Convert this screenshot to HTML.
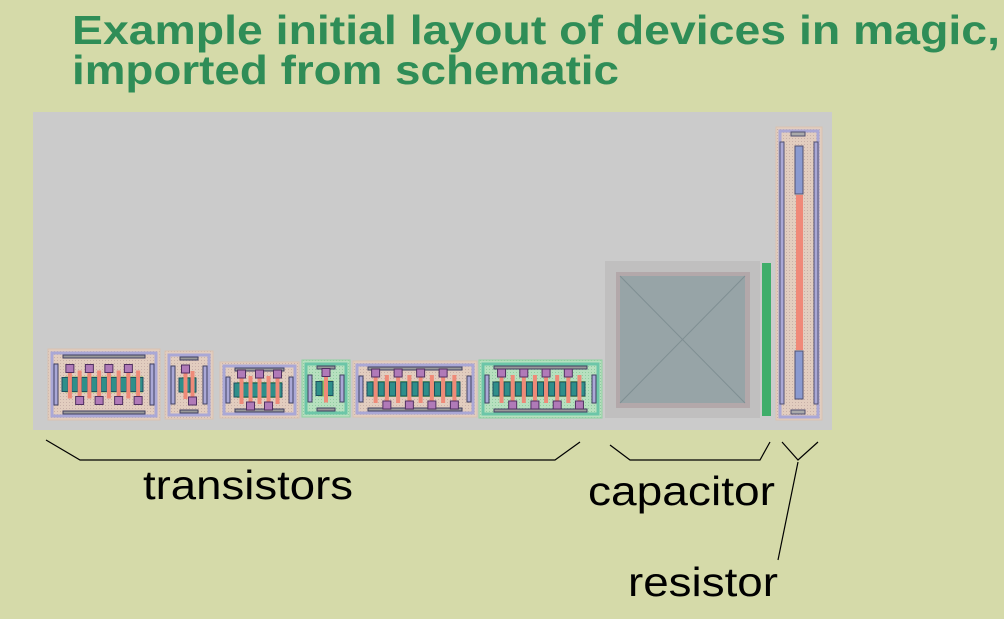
<!DOCTYPE html>
<html><head><meta charset="utf-8"><style>
html,body{margin:0;padding:0;background:#d5daa9;}
svg{display:block;font-family:"Liberation Sans",sans-serif;}
</style></head><body>
<svg width="1004" height="619" viewBox="0 0 1004 619">
<defs>
<pattern id="dots" width="3" height="3" patternUnits="userSpaceOnUse"><rect width="3" height="3" fill="#e2cdbf"/><rect width="1" height="1" fill="#c8b0a8"/></pattern>
<pattern id="gdots" width="3" height="3" patternUnits="userSpaceOnUse"><rect width="3" height="3" fill="#b7e0bf"/><rect width="1" height="1" fill="#8fcca0"/></pattern>
</defs>
<text x="72" y="44" font-size="41" font-weight="bold" fill="#2f8d57" textLength="928" lengthAdjust="spacingAndGlyphs">Example initial layout of devices in magic,</text>
<text x="72" y="84" font-size="41" font-weight="bold" fill="#2f8d57" textLength="547" lengthAdjust="spacingAndGlyphs">imported from schematic</text>
<rect x="33" y="112" width="799" height="318" fill="#cbcbcb"/>
<g id="trans"></g>
<g>
<rect x="605" y="261" width="155" height="157" fill="#c0bfbf"/>
<rect x="616" y="272" width="134" height="136" fill="#b3a8aa"/>
<rect x="620" y="276" width="125" height="127" fill="#97a4a7"/>
<line x1="620" y1="276" x2="745" y2="403" stroke="#7f8f93"/>
<line x1="745" y1="276" x2="620" y2="403" stroke="#7f8f93"/>
<rect x="762" y="263" width="9" height="153" fill="#3fae6a"/>
</g>
<g>
<rect x="776" y="127" width="46" height="293" fill="url(#dots)" stroke="#d9c2b0"/>
<rect x="780" y="131" width="38" height="286" fill="none" stroke="#aaa8d6" stroke-width="3"/>
<rect x="780" y="142" width="4" height="262" fill="#aaa8d6" stroke="#505070"/>
<rect x="814" y="142" width="4" height="262" fill="#aaa8d6" stroke="#505070"/>
<rect x="795" y="146" width="8" height="48" fill="#8a9ad0" stroke="#505070"/>
<rect x="795" y="351" width="8" height="48" fill="#8a9ad0" stroke="#505070"/>
<rect x="796" y="195" width="7" height="155" fill="#f08878"/>
<rect x="791" y="132" width="14" height="4" fill="#aaa" stroke="#505070"/>
<rect x="791" y="410" width="14" height="4" fill="#aaa" stroke="#505070"/>
</g>
<g stroke="#000" stroke-width="1.2" fill="none">
<polyline points="46,440 80,460 555,460 580,442"/>
<polyline points="610,445 630,460 760,460 770,442"/>
<polyline points="782,442 798,460 818,442"/>
<line x1="798" y1="462" x2="778" y2="560"/>
</g>
<text x="143" y="499" font-size="41" fill="#000" textLength="210" lengthAdjust="spacingAndGlyphs">transistors</text>
<text x="588" y="505" font-size="41" fill="#000" textLength="187" lengthAdjust="spacingAndGlyphs">capacitor</text>
<text x="628" y="596" font-size="41" fill="#000" textLength="150" lengthAdjust="spacingAndGlyphs">resistor</text>
</svg>
<script>
const boxX=[48,165,220,302,353,479];
const boxW=[112,48,79,48,124,123];
const boxY=[349,351,362,360,361,360];
const boxH=[71,68,56,57,56,58];
const fingers=[8,2,5,1,8,8];
const green=[0,0,0,1,0,1];
const NS="http://www.w3.org/2000/svg";
const g=document.getElementById('trans');
function mk(t,a){const e=document.createElementNS(NS,t);for(const k in a)e.setAttribute(k,a[k]);g.appendChild(e);return e;}
for(let i=0;i<boxX.length;i++){
 const x=boxX[i],y=boxY[i],w=boxW[i],h=boxH[i];
 const b=mk('rect',{x:x,y:y,width:w,height:h,fill:green[i]?'url(#gdots)':'url(#dots)',stroke:green[i]?'#8fd0a0':'#d9c2b0'});
 
 
 mk('rect',{x:x+4,y:y+4,width:w-8,height:h-8,fill:'none',stroke:green[i]?'#6cc6a8':'#aaa8d6','stroke-width':3});
 mk('rect',{x:x+6,y:y+15,width:4,height:h-30,fill:'#aaa8d6',stroke:'#404060'});
 mk('rect',{x:x+w-10,y:y+15,width:4,height:h-30,fill:'#aaa8d6',stroke:'#404060'});
 mk('rect',{x:x+15,y:y+6,width:w-30,height:3,fill:'#999',stroke:'#404060'});
 mk('rect',{x:x+15,y:y+h-9,width:w-30,height:3,fill:'#999',stroke:'#404060'});
 const n=fingers[i],sw=(w-34),cy=y+h/2;
 const dh=Math.min(16,h-36);
 mk('rect',{x:x+17,y:cy-dh/2,width:sw,height:dh,fill:'#8fbf60'});
 for(let k=0;k<=n;k++){const cx=x+17+sw*k/(n||1)-3;
  mk('rect',{x:Math.min(cx,x+17+sw-6),y:cy-dh/2+1,width:6,height:dh-2,fill:'#2e8f8a',stroke:'#1d4f60'});}
 for(let k=0;k<n;k++){const cx=x+17+sw*(k+0.5)/n;
  mk('rect',{x:cx-2,y:cy-dh/2-6,width:4,height:dh+12,fill:'#ef8a78'});
  mk('rect',{x:cx-4,y:k%2?cy+dh/2+4:cy-dh/2-12,width:8,height:8,fill:'#b07ab8',stroke:'#503060'});}
}
</script>
</body></html>
